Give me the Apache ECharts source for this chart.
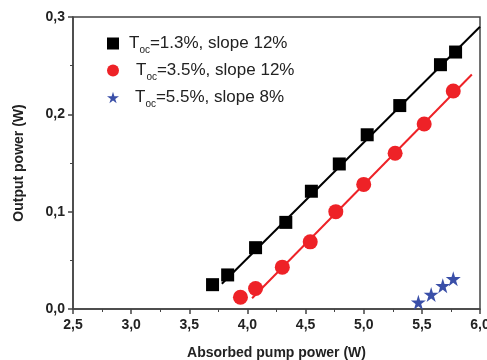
<!DOCTYPE html>
<html>
<head>
<meta charset="utf-8">
<script src="https://cdn.jsdelivr.net/npm/echarts@6/dist/echarts.min.js"></script>
<style>
  html, body { margin: 0; padding: 0; background: #fff; }
  #chart { width: 487px; height: 360px; }
</style>
</head>
<body>
<div id="chart"></div>
<script>
// 数据：吸收泵浦功率 (W) / 输出功率 (W)
var toc13_x = [3.70, 3.83, 4.07, 4.33, 4.55, 4.79, 5.03, 5.31, 5.66, 5.79];
var toc13_y = [0.025, 0.035, 0.063, 0.089, 0.121, 0.149, 0.179, 0.209, 0.251, 0.264];
var toc35_x = [3.94, 4.07, 4.30, 4.54, 4.76, 5.00, 5.27, 5.52, 5.77];
var toc35_y = [0.012, 0.021, 0.043, 0.069, 0.100, 0.128, 0.160, 0.190, 0.224];
var toc55_x = [5.47, 5.58, 5.68, 5.77];
var toc55_y = [0.007, 0.015, 0.024, 0.031];
// 拟合直线的两端
var fit13 = [[3.78, 0.026], [6.0, 0.290]];
var fit35 = [[4.04, 0.011], [5.93, 0.241]];
var names = ['T_oc=1.3%, slope 12%', 'T_oc=3.5%, slope 12%', 'T_oc=5.5%, slope 8%'];

function pairs(xs, ys) {
  var out = [];
  for (var i = 0; i < xs.length; i++) out.push([xs[i], ys[i]]);
  return out;
}

var star = 'path://M50,0 L61,35 L98,35 L68,57 L79,91 L50,70 L21,91 L32,57 L2,35 L39,35 Z';

var myChart = echarts.init(document.getElementById('chart'));

function comma(v) {
  return v.toFixed(1).replace('.', ',');
}

var option = {
  animation: false,
  textStyle: { fontFamily: 'Liberation Sans, Arial' },
  grid: {
    left: 73, right: 7, top: 17, bottom: 51,
    outerBoundsMode: 'none',
    containLabel: false,
    show: true,
    borderColor: '#444',
    borderWidth: 1.5
  },
  legend: {
    orient: 'vertical',
    left: 102, top: 30,
    itemGap: 7,
    itemWidth: 12, itemHeight: 12,
    data: [
      { name: names[0], icon: 'rect', itemStyle: { color: '#000', opacity: 1 } },
      { name: names[1], icon: 'circle', itemStyle: { color: '#ee2227', opacity: 1 } },
      { name: names[2], icon: star, itemStyle: { color: '#3a4fa8', opacity: 1 } }
    ],
    formatter: function (name) {
      var i = names.indexOf(name);
      var rest = name.split('oc')[1];
      return '{g' + i + '|}{a|T}{b|oc}{a|' + rest + '}';
    },
    textStyle: {
      color: '#222',
      rich: {
        g0: { width: 5 },
        g1: { width: 12 },
        g2: { width: 11 },
        a: { fontSize: 17, fontFamily: 'Liberation Sans, Arial', color: '#222' },
        b: { fontSize: 10, fontFamily: 'Liberation Sans, Arial', color: '#222', padding: [13, 0, 0, 0] }
      }
    }
  },
  xAxis: {
    type: 'value',
    min: 2.5, max: 6.0, interval: 0.5,
    name: 'Absorbed pump power (W)',
    nameLocation: 'middle',
    nameGap: 37,
    nameTextStyle: { fontWeight: 'bold', fontSize: 14, color: '#222' },
    axisLine: { lineStyle: { color: '#444', width: 1.5 } },
    axisTick: { show: true, length: 5, lineStyle: { color: '#444', width: 1.5 } },
    minorTick: { show: true, splitNumber: 2, length: 3, lineStyle: { color: '#444' } },
    axisLabel: { fontWeight: 'bold', fontSize: 14, color: '#222', margin: 9, formatter: comma },
    splitLine: { show: false }
  },
  yAxis: {
    type: 'value',
    min: 0, max: 0.3, interval: 0.1,
    name: 'Output power (W)',
    nameLocation: 'middle',
    nameGap: 47,
    nameTextStyle: { fontWeight: 'bold', fontSize: 14, color: '#222' },
    axisLine: { show: true, lineStyle: { color: '#444', width: 1.5 } },
    axisTick: { show: true, length: 5, lineStyle: { color: '#444', width: 1.5 } },
    minorTick: { show: true, splitNumber: 2, length: 3, lineStyle: { color: '#444' } },
    axisLabel: { fontWeight: 'bold', fontSize: 14, color: '#222', margin: 8, formatter: comma },
    splitLine: { show: false }
  },
  series: [
    {
      // 拟合线
      type: 'line', data: fit13, showSymbol: false, silent: true,
      lineStyle: { color: '#000', width: 2 }, z: 1
    },
    {
      type: 'line', data: fit35, showSymbol: false, silent: true,
      lineStyle: { color: '#ee2227', width: 2 }, z: 1
    },
    {
      name: names[0], type: 'scatter', symbol: 'rect', symbolSize: 13,
      itemStyle: { color: '#000', opacity: 1 }, data: pairs(toc13_x, toc13_y), z: 3
    },
    {
      name: names[1], type: 'scatter', symbol: 'circle', symbolSize: 15,
      itemStyle: { color: '#ee2227', opacity: 1 }, data: pairs(toc35_x, toc35_y), z: 3
    },
    {
      name: names[2], type: 'scatter', symbol: star, symbolSize: 15,
      itemStyle: { color: '#3a4fa8', opacity: 1 }, data: pairs(toc55_x, toc55_y), z: 3
    }
  ]
};

myChart.setOption(option);
</script>
</body>
</html>
